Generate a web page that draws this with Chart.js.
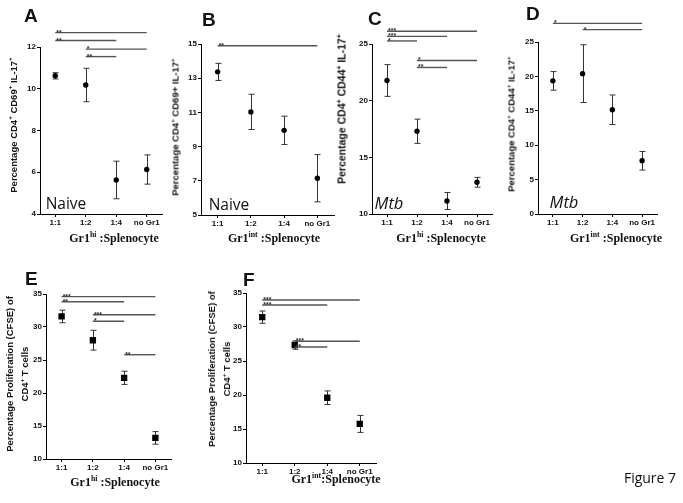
<!DOCTYPE html>
<html>
<head>
<meta charset="utf-8">
<script src="https://cdn.jsdelivr.net/npm/chart.js@4.4.0/dist/chart.umd.min.js"></script>
<style>
    body { margin: 0; background: #fff; }
    #fig { position: relative; width: 683px; height: 503px; overflow: hidden; font-family: "Liberation Sans", Arial, sans-serif; color: #111; }
    canvas { position: absolute; }
    .letter { position: absolute; font-weight: bold; font-size: 19px; line-height: 19px; }
    .yt { position: absolute; white-space: nowrap; font-weight: bold; font-size: 9.5px; line-height: 15px; text-align: center; transform: translate(-50%, -50%) rotate(-90deg); }
    .xt { position: absolute; white-space: nowrap; font-family: "Liberation Serif", "Times New Roman", serif; font-weight: bold; font-size: 12px; transform: translate(-50%, -50%); }
    .tag { position: absolute; white-space: nowrap; font-family: "Open Sans", sans-serif; font-size: 15.5px; transform: translate(-50%, -50%); }
    sup { font-size: 65%; vertical-align: super; line-height: 0; }
</style>
</head>
<body>
<div id="fig">
    <canvas id="chartA"></canvas>
    <canvas id="chartB"></canvas>
    <canvas id="chartC"></canvas>
    <canvas id="chartD"></canvas>
    <canvas id="chartE"></canvas>
    <canvas id="chartF"></canvas>

    <div class="letter" style="left:24px; top:6px;">A</div>
    <div class="letter" style="left:202px; top:10px;">B</div>
    <div class="letter" style="left:368px; top:9px;">C</div>
    <div class="letter" style="left:526px; top:4px;">D</div>
    <div class="letter" style="left:25px; top:269px;">E</div>
    <div class="letter" style="left:243px; top:270px;">F</div>

    <div class="yt" style="left:13px; top:125px;">Percentage CD4<sup>+</sup> CD69<sup>+</sup> IL-17<sup>+</sup></div>
    <div class="yt" style="left:175px; top:127px;">Percentage CD4<sup>+</sup> CD69+ IL-17<sup>+</sup></div>
    <div class="yt" style="left:342px; top:109px; font-size:10.5px;">Percentage CD4<sup>+</sup> CD44<sup>+</sup> IL-17<sup>+</sup></div>
    <div class="yt" style="left:511px; top:124px;">Percentage CD4<sup>+</sup> CD44<sup>+</sup> IL-17<sup>+</sup></div>
    <div class="yt" style="left:17px; top:374px; font-size:9.5px;">Percentage Proliferation (CFSE) of<br>CD4<sup>+</sup> T cells</div>
    <div class="yt" style="left:219px; top:369px; font-size:9.5px;">Percentage Proliferation (CFSE) of<br>CD4<sup>+</sup> T cells</div>

    <div class="xt" style="left:114px; top:238px;">Gr1<sup>hi</sup> :Splenocyte</div>
    <div class="xt" style="left:274px; top:238px;">Gr1<sup>int</sup> :Splenocyte</div>
    <div class="xt" style="left:441px; top:238px;">Gr1<sup>hi</sup> :Splenocyte</div>
    <div class="xt" style="left:616px; top:238px;">Gr1<sup>int</sup> :Splenocyte</div>
    <div class="xt" style="left:115px; top:482px;">Gr1<sup>hi</sup> :Splenocyte</div>
    <div class="xt" style="left:336px; top:479px;">Gr1<sup>int</sup>:Splenocyte</div>

    <div class="tag" style="left:66px; top:203px;">Naive</div>
    <div class="tag" style="left:229px; top:204px;">Naive</div>
    <div class="tag" style="left:389px; top:202px; font-style:italic; font-size:16.5px;">Mtb</div>
    <div class="tag" style="left:564px; top:201px; font-style:italic; font-size:16.5px;">Mtb</div>

    <div class="tag" style="left:650px; top:477px; font-size:14px;">Figure 7</div>
</div>

<script>
// categories shared by all panels
const categories = ['1:1', '1:2', '1:4', 'no Gr1'];

// A - Gr1hi, naive
const meansA = [10.62, 10.18, 5.63, 6.13];
const errA = [0.15, 0.8, 0.9, 0.7];
const ticksA = [4, 6, 8, 10, 12];
const sigA = [[0, 3, 12.69, '**'], [0, 2, 12.31, '**'], [1, 3, 11.9, '*'], [1, 2, 11.54, '**']];

// B - Gr1int, naive
const meansB = [13.37, 11.03, 9.95, 7.15];
const errB = [0.5, 1.03, 0.83, 1.38];
const ticksB = [5, 7, 9, 11, 13, 15];
const sigB = [[0, 3, 14.9, '**']];

// C - Gr1hi, Mtb
const meansC = [21.78, 17.3, 11.15, 12.8];
const errC = [1.4, 1.07, 0.75, 0.43];
const ticksC = [10, 15, 20, 25];
const sigC = [[0, 3, 26.12, '***'], [0, 2, 25.67, '***'], [0, 1, 25.27, '*'], [1, 3, 23.55, '*'], [1, 2, 22.93, '**']];

// D - Gr1int, Mtb
const meansD = [19.35, 20.4, 15.15, 7.74];
const errD = [1.35, 4.2, 2.15, 1.35];
const ticksD = [0, 5, 10, 15, 20, 25];
const sigD = [[0, 3, 27.7, '*'], [1, 3, 26.8, '*']];

// E - proliferation, Gr1hi
const meansE = [31.6, 28.0, 22.3, 13.2];
const errE = [0.95, 1.5, 1.0, 0.95];
const ticksE = [10, 15, 20, 25, 30, 35];
const sigE = [[0, 3, 34.6, '***'], [0, 2, 33.83, '**'], [1, 3, 31.86, '***'], [1, 2, 30.86, '*'], [2, 3, 25.8, '**']];

// F - proliferation, Gr1int
const meansF = [31.45, 27.35, 19.6, 15.75];
const errF = [0.9, 0.62, 1.0, 1.25];
const ticksF = [10, 15, 20, 25, 30, 35];
const sigF = [[0, 3, 33.97, '***'], [0, 2, 33.24, '***'], [1, 3, 27.9, '***'], [1, 2, 27.06, '**']];

// where each plot area sits on the page
const boxA = { left: 40, right: 162, top: 47, bottom: 214, canvasTop: 12 };
const boxB = { left: 201, right: 334, top: 44, bottom: 215, canvasTop: 12 };
const boxC = { left: 372, right: 492, top: 44, bottom: 214, canvasTop: 12 };
const boxD = { left: 538, right: 657, top: 42, bottom: 214, canvasTop: 12 };
const boxE = { left: 46, right: 171, top: 294, bottom: 459, canvasTop: 280 };
const boxF = { left: 246, right: 376, top: 293, bottom: 463, canvasTop: 280 };

function errorBarPlugin (errs) {
    return {
        id: 'errorBars',
        beforeDatasetsDraw(chart) {
            const ctx = chart.ctx;
            const ys = chart.scales.y;
            const vals = chart.data.datasets[0].data;
            ctx.save();
            ctx.strokeStyle = '#333';
            ctx.lineWidth = 1;
            chart.getDatasetMeta(0).data.forEach(function(pt, i) {
                const top = ys.getPixelForValue(vals[i] + errs[i]);
                const bot = ys.getPixelForValue(vals[i] - errs[i]);
                const x = Math.round(pt.x) + 0.5;
                ctx.beginPath();
                ctx.moveTo(x, top); ctx.lineTo(x, bot);
                ctx.moveTo(x - 3, top); ctx.lineTo(x + 3, top);
                ctx.moveTo(x - 3, bot); ctx.lineTo(x + 3, bot);
                ctx.stroke();
            });
            ctx.restore();
        }
    };
}

function sigPlugin (lines) {
    return {
        id: 'sigLines',
        afterDraw(chart) {
            const ctx = chart.ctx;
            const xs = chart.scales.x;
            const ys = chart.scales.y;
            ctx.save();
            lines.forEach(function(l) {
                const x0 = xs.getPixelForValue(l[0]);
                const x1 = xs.getPixelForValue(l[1]);
                const yy = ys.getPixelForValue(l[2]);
                ctx.strokeStyle = '#555';
                ctx.lineWidth = 1.4;
                ctx.beginPath();
                ctx.moveTo(x0, yy);
                ctx.lineTo(x1, yy);
                ctx.stroke();
                ctx.fillStyle = '#333';
                ctx.font = 'bold 7px "Liberation Sans"';
                ctx.fillText(l[3], x0 + 1, yy + 2);
            });
            ctx.restore();
        }
    };
}

function makePanel (id, box, means, errs, ticks, sig, square) {
    const yW = 24, xH = 18, padRight = 12;
    const padTop = box.top - box.canvasTop;
    const canvas = document.getElementById(id);
    canvas.width = yW + box.right - box.left + padRight;
    canvas.height = padTop + box.bottom - box.top + xH;
    canvas.style.left = (box.left - yW) + 'px';
    canvas.style.top = box.canvasTop + 'px';

    const tickFont = { size: 8, weight: 'bold', family: '"Liberation Sans", Arial' };

    new Chart(canvas, {
        type: 'line',
        data: {
            labels: categories,
            datasets: [{
                data: means,
                showLine: false,
                pointStyle: square ? 'rect' : 'circle',
                pointRadius: square ? 4.5 : 2.7,
                backgroundColor: '#000',
                borderColor: '#000',
                borderWidth: 0
            }]
        },
        options: {
            responsive: false,
            animation: false,
            layout: { padding: { top: padTop, right: padRight, left: 0, bottom: 0 } },
            plugins: { legend: { display: false }, tooltip: { enabled: false } },
            scales: {
                x: {
                    offset: true,
                    grid: { drawOnChartArea: false, color: '#000', tickLength: 3 },
                    border: { color: '#000', width: 1 },
                    ticks: { color: '#111', font: tickFont, padding: 1, maxRotation: 0, autoSkip: false },
                    afterFit: function(s) { s.height = xH; }
                },
                y: {
                    min: ticks[0],
                    max: ticks[ticks.length - 1],
                    grid: { drawOnChartArea: false, color: '#000', tickLength: 3 },
                    border: { color: '#000', width: 1 },
                    ticks: { stepSize: ticks[1] - ticks[0], color: '#111', font: tickFont, padding: 1 },
                    afterFit: function(s) { s.width = yW; }
                }
            }
        },
        plugins: [errorBarPlugin(errs), sigPlugin(sig)]
    });
}

makePanel('chartA', boxA, meansA, errA, ticksA, sigA, false);
makePanel('chartB', boxB, meansB, errB, ticksB, sigB, false);
makePanel('chartC', boxC, meansC, errC, ticksC, sigC, false);
makePanel('chartD', boxD, meansD, errD, ticksD, sigD, false);
makePanel('chartE', boxE, meansE, errE, ticksE, sigE, true);
makePanel('chartF', boxF, meansF, errF, ticksF, sigF, true);
</script>
</body>
</html>
